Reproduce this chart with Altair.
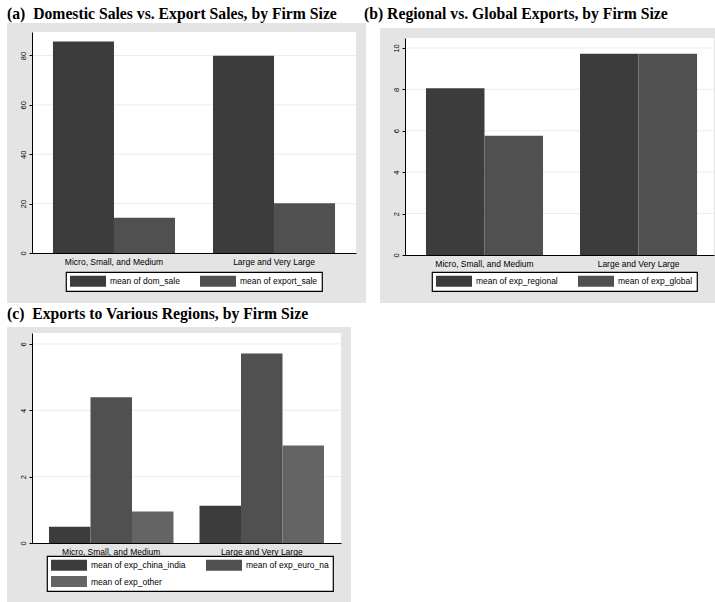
import altair as alt
import pandas as pd

categories = ["Micro, Small, and Medium", "Large and Very Large"]

a_series = ["mean of dom_sale", "mean of export_sale"]
a_dom_sale = [85.7, 79.9]
a_export_sale = [14.3, 20.1]
a_ticks = [0, 20, 40, 60, 80]

b_series = ["mean of exp_regional", "mean of exp_global"]
b_exp_regional = [8.05, 9.72]
b_exp_global = [5.76, 9.72]
b_ticks = [0, 2, 4, 6, 8, 10]

c_series = ["mean of exp_china_india", "mean of exp_euro_na", "mean of exp_other"]
c_exp_china_india = [0.49, 1.12]
c_exp_euro_na = [4.39, 5.71]
c_exp_other = [0.95, 2.94]
c_ticks = [0, 2, 4, 6]

titles = [
    "(a)\u00a0 Domestic Sales vs. Export Sales, by Firm Size",
    "(b) Regional vs. Global Exports, by Firm Size",
    "(c)\u00a0 Exports to Various Regions, by Firm Size",
]

BAR_COLORS = ["#3c3c3c", "#505050", "#646464"]
BG = "#e4e4e4"
GRID = "#ececec"
SANS = "Liberation Sans, Arial"
SERIF = "Liberation Serif, Times New Roman, serif"
# wide legend swatch (36 x 11 px with symbolSize 100)
RECT_PATH = "M-1,-1.1L6.2,-1.1L6.2,1.1L-1,1.1Z"


def make_df(series, columns):
    rows = []
    for s, vals in zip(series, columns):
        for cat, v in zip(categories, vals):
            rows.append({"cat": cat, "series": s, "value": v})
    return pd.DataFrame(rows)


def panel(series, columns, ticks, ymax, w, h, top, band, title, title_pos,
          gray, legend_pos, anchor=False):
    df = make_df(series, columns)
    one = pd.DataFrame({"k": [0]})
    yscale = alt.Scale(domain=[0, ymax], nice=False, zero=True, range=[h, top])
    yaxis = alt.Axis(values=ticks, title=None, grid=False, labelAngle=270,
                     tickSize=3, labelFontSize=7.5, labelPadding=2,
                     labelFont=SANS, labelColor="black", domainColor="black",
                     tickColor="black", zindex=1)
    layers = []
    if anchor:
        layers.append(
            alt.Chart(one).mark_rect(fill="white", opacity=0).encode(
                x=alt.value(-32), x2=alt.value(-31),
                y=alt.value(-32), y2=alt.value(-31)))
    layers.append(
        alt.Chart(one).mark_rect(fill=BG).encode(
            x=alt.value(gray[0]), x2=alt.value(gray[1]),
            y=alt.value(gray[2]), y2=alt.value(gray[3])))
    layers.append(
        alt.Chart(one).mark_rect(fill="white").encode(
            x=alt.value(0), x2=alt.value(w), y=alt.value(top), y2=alt.value(h)))
    grid = alt.Chart(pd.DataFrame({"value": ticks[1:]})).mark_rule(
        color=GRID, strokeWidth=1).encode(
        y=alt.Y("value:Q", scale=yscale, axis=yaxis),
        x=alt.value(0), x2=alt.value(w))
    bars = alt.Chart(df).mark_bar().encode(
        x=alt.X("cat:N", sort=categories, title=None,
                scale=alt.Scale(paddingInner=band[0], paddingOuter=band[1],
                                align=band[2]),
                axis=alt.Axis(ticks=False, labelAngle=0, labelPadding=4,
                              labelFont=SANS, labelFontSize=8.5,
                              labelColor="black", domainColor="black",
                              labelLimit=0, zindex=1)),
        xOffset=alt.XOffset("series:N", sort=series,
                            scale=alt.Scale(paddingInner=0, paddingOuter=0)),
        y=alt.Y("value:Q", scale=yscale, axis=yaxis),
        color=alt.Color(
            "series:N", sort=series,
            scale=alt.Scale(domain=series, range=BAR_COLORS[:len(series)]),
            legend=alt.Legend(title=None, orient="none",
                              legendX=legend_pos[0], legendY=legend_pos[1],
                              direction="horizontal", columns=2,
                              symbolType=RECT_PATH, symbolSize=100,
                              symbolStrokeWidth=0, symbolOpacity=1,
                              labelFont=SANS, labelFontSize=8.5,
                              labelColor="black", labelOffset=30,
                              labelLimit=0, columnPadding=20, rowPadding=4.5,
                              padding=4, fillColor="white",
                              strokeColor="black")),
    )
    title_mark = alt.Chart(one).mark_text(
        text=title, align="left", baseline="alphabetic", font=SERIF,
        fontWeight="bold", fontSize=15.7, color="black").encode(
        x=alt.value(title_pos[0]), y=alt.value(title_pos[1]))
    return alt.layer(*layers, grid, bars, title_mark).properties(width=w, height=h)


pa = panel(a_series, [a_dom_sale, a_export_sale], a_ticks, 89.5, 324, 221, 0,
           (0.2375, 0.131, 0.5), titles[0], (-25, -13), (-25, 334, -9, 271),
           (34, 240), anchor=True)
# panel b: its plot area starts 6 px lower than panel a's
pb = panel(b_series, [b_exp_regional, b_exp_global], b_ticks, 10.48, 309, 223, 6,
           (0.24, 0.123, 0.553), titles[1], (-41, -13.5), (-25, 310, -4, 271),
           (27, 240))
pc = panel(c_series, [c_exp_china_india, c_exp_euro_na, c_exp_other], c_ticks,
           6.33, 309, 210, 0, (0.173, 0.113, 0.5), titles[2], (-25, -14.5),
           (-25, 319, -6, 269), (15, 223))

chart = alt.concat(pa, pb, pc, columns=2, bounds="flush",
                   spacing={"row": 78, "column": 49}).resolve_scale(
    color="independent", x="independent", y="independent",
    xOffset="independent"
).properties(
    padding=0, background="white"
).configure_view(stroke=None).configure_legend(strokeWidth=1.2)

chart.save("out.html", embed_options={"renderer": "svg", "actions": False})
